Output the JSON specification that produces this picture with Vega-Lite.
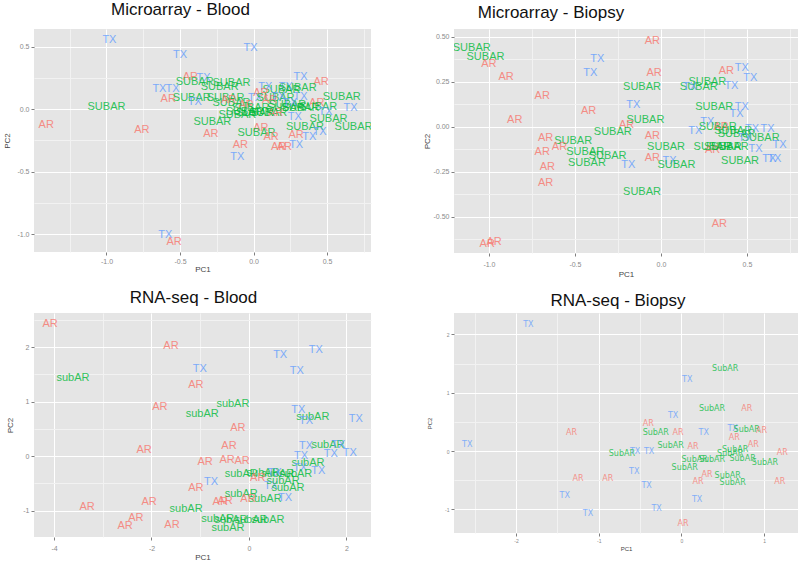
{
  "$schema": "https://vega.github.io/schema/vega-lite/v6.json",
  "padding": {"left": 3, "top": 1, "right": 0, "bottom": 0},
  "background": "white",
  "config": {
    "font": "Liberation Sans",
    "view": {"fill": "#E5E5E5", "stroke": null},
    "axis": {"domain": false, "tickColor": "#7F7F7F", "tickSize": 3, "labelColor": "#8A8A8A", "labelFontSize": 7, "labelPadding": 2, "titleColor": "#444444", "titleFontSize": 8, "titleFontWeight": "normal", "gridColor": "#FFFFFF"},
    "title": {"fontSize": 17, "fontWeight": "normal", "color": "#111111", "frame": "group", "anchor": "middle"},
    "text": {"font": "Liberation Sans", "fontSize": 11, "opacity": 0.8}
  },
  "datasets": {
    "p1": [
      {"x":-0.98,"y":0.55,"label":"TX"},{"x":-0.50,"y":0.43,"label":"TX"},{"x":-0.02,"y":0.49,"label":"TX"},{"x":0.32,"y":0.26,"label":"TX"},
      {"x":0.46,"y":0.22,"label":"AR"},{"x":-0.43,"y":0.26,"label":"AR"},{"x":-0.34,"y":0.25,"label":"TX"},{"x":-0.40,"y":0.22,"label":"SUBAR"},
      {"x":-0.15,"y":0.21,"label":"SUBAR"},{"x":-0.23,"y":0.18,"label":"SUBAR"},{"x":-0.64,"y":0.16,"label":"TX"},{"x":-0.55,"y":0.16,"label":"TX"},
      {"x":-0.58,"y":0.08,"label":"AR"},{"x":-0.42,"y":0.09,"label":"SUBAR"},{"x":-0.19,"y":0.09,"label":"SUBAR"},{"x":-0.40,"y":0.06,"label":"TX"},
      {"x":-1.00,"y":0.02,"label":"SUBAR"},{"x":-1.41,"y":-0.13,"label":"AR"},{"x":-0.76,"y":-0.17,"label":"AR"},{"x":-0.28,"y":-0.10,"label":"SUBAR"},
      {"x":-0.29,"y":-0.20,"label":"AR"},{"x":-0.09,"y":-0.29,"label":"AR"},{"x":-0.11,"y":-0.38,"label":"TX"},{"x":-0.60,"y":-1.01,"label":"TX"},
      {"x":-0.54,"y":-1.06,"label":"AR"},{"x":0.05,"y":-0.15,"label":"AR"},{"x":0.02,"y":-0.19,"label":"SUBAR"},{"x":0.12,"y":-0.22,"label":"AR"},
      {"x":0.17,"y":-0.30,"label":"AR"},{"x":0.21,"y":-0.30,"label":"AR"},{"x":0.29,"y":-0.29,"label":"TX"},{"x":0.29,"y":-0.21,"label":"AR"},
      {"x":0.38,"y":-0.22,"label":"TX"},{"x":0.35,"y":-0.14,"label":"SUBAR"},{"x":0.45,"y":-0.18,"label":"TX"},{"x":0.28,"y":-0.06,"label":"TX"},
      {"x":0.51,"y":-0.08,"label":"SUBAR"},{"x":0.68,"y":-0.14,"label":"SUBAR"},{"x":0.66,"y":0.01,"label":"TX"},{"x":0.60,"y":0.10,"label":"SUBAR"},
      {"x":0.43,"y":0.05,"label":"AR"},{"x":0.44,"y":0.02,"label":"SUBAR"},{"x":0.49,"y":-0.02,"label":"TX"},{"x":0.32,"y":0.10,"label":"TX"},
      {"x":0.30,"y":0.17,"label":"SUBAR"},{"x":0.22,"y":0.18,"label":"TX"},{"x":0.19,"y":0.15,"label":"SUBAR"},{"x":0.08,"y":0.18,"label":"TX"},
      {"x":0.05,"y":0.13,"label":"AR"},{"x":0.01,"y":0.09,"label":"TX"},{"x":0.15,"y":0.09,"label":"SUBAR"},{"x":0.11,"y":0.07,"label":"AR"},
      {"x":0.17,"y":0.10,"label":"TX"},{"x":0.23,"y":0.03,"label":"SUBAR"},{"x":0.32,"y":0.01,"label":"SUBAR"},{"x":-0.15,"y":0.05,"label":"SUBAR"},
      {"x":-0.17,"y":0.07,"label":"AR"},{"x":-0.05,"y":0.03,"label":"AR"},{"x":-0.06,"y":-0.02,"label":"SUBAR"},{"x":0.10,"y":-0.03,"label":"SUBAR"},
      {"x":0.15,"y":-0.03,"label":"AR"},{"x":-0.11,"y":-0.05,"label":"SUBAR"},{"x":0.01,"y":-0.03,"label":"SUBAR"},{"x":-0.02,"y":0.01,"label":"SUBAR"},
      {"x":0.22,"y":0.01,"label":"SUBAR"},{"x":0.25,"y":0.05,"label":"TX"}
    ],
    "p2": [
      {"x":-1.10,"y":0.44,"label":"SUBAR"},{"x":-1.02,"y":0.39,"label":"SUBAR"},{"x":-1.00,"y":0.35,"label":"AR"},{"x":-0.90,"y":0.28,"label":"AR"},
      {"x":-0.69,"y":0.17,"label":"AR"},{"x":-0.85,"y":0.04,"label":"AR"},{"x":-0.42,"y":0.09,"label":"AR"},{"x":-0.37,"y":0.38,"label":"TX"},
      {"x":-0.41,"y":0.30,"label":"TX"},{"x":-0.05,"y":0.48,"label":"AR"},{"x":-0.04,"y":0.30,"label":"AR"},{"x":-0.11,"y":0.22,"label":"SUBAR"},
      {"x":-0.16,"y":0.12,"label":"TX"},{"x":-0.09,"y":0.04,"label":"SUBAR"},{"x":-0.20,"y":0.01,"label":"AR"},{"x":-0.28,"y":-0.03,"label":"SUBAR"},
      {"x":-0.05,"y":-0.05,"label":"AR"},{"x":0.03,"y":-0.11,"label":"SUBAR"},{"x":-0.05,"y":-0.17,"label":"AR"},{"x":0.05,"y":-0.19,"label":"TX"},
      {"x":0.09,"y":-0.21,"label":"SUBAR"},{"x":-0.19,"y":-0.21,"label":"TX"},{"x":-0.11,"y":-0.36,"label":"SUBAR"},{"x":-0.67,"y":-0.06,"label":"AR"},
      {"x":-0.51,"y":-0.08,"label":"SUBAR"},{"x":-0.59,"y":-0.11,"label":"AR"},{"x":-0.69,"y":-0.14,"label":"AR"},{"x":-0.44,"y":-0.14,"label":"SUBAR"},
      {"x":-0.31,"y":-0.16,"label":"SUBAR"},{"x":-0.43,"y":-0.20,"label":"SUBAR"},{"x":-0.66,"y":-0.22,"label":"AR"},{"x":-0.67,"y":-0.31,"label":"AR"},
      {"x":-1.01,"y":-0.65,"label":"AR"},{"x":-0.97,"y":-0.64,"label":"AR"},{"x":0.34,"y":-0.54,"label":"AR"},{"x":0.38,"y":0.31,"label":"AR"},
      {"x":0.47,"y":0.33,"label":"TX"},{"x":0.52,"y":0.27,"label":"TX"},{"x":0.27,"y":0.25,"label":"SUBAR"},{"x":0.22,"y":0.22,"label":"SUBAR"},
      {"x":0.17,"y":0.22,"label":"TX"},{"x":0.41,"y":0.23,"label":"TX"},{"x":0.31,"y":0.11,"label":"SUBAR"},{"x":0.47,"y":0.11,"label":"TX"},
      {"x":0.44,"y":0.07,"label":"TX"},{"x":0.27,"y":0.03,"label":"TX"},{"x":0.20,"y":-0.02,"label":"TX"},{"x":0.33,"y":0.00,"label":"SUBAR"},
      {"x":0.35,"y":0.00,"label":"AR"},{"x":0.42,"y":-0.02,"label":"SUBAR"},{"x":0.53,"y":-0.01,"label":"TX"},{"x":0.62,"y":-0.01,"label":"TX"},
      {"x":0.44,"y":-0.04,"label":"SUBAR"},{"x":0.58,"y":-0.06,"label":"SUBAR"},{"x":0.69,"y":-0.10,"label":"TX"},{"x":0.30,"y":-0.11,"label":"SUBAR"},
      {"x":0.30,"y":-0.13,"label":"AR"},{"x":0.40,"y":-0.11,"label":"SUBAR"},{"x":0.55,"y":-0.12,"label":"TX"},{"x":0.63,"y":-0.18,"label":"TX"},
      {"x":0.66,"y":-0.18,"label":"TX"},{"x":0.46,"y":-0.19,"label":"SUBAR"},{"x":0.36,"y":-0.11,"label":"SUBAR"},{"x":0.49,"y":-0.06,"label":"TX"}
    ],
    "p3": [
      {"x":-4.08,"y":2.42,"label":"AR"},{"x":-1.60,"y":2.02,"label":"AR"},{"x":-3.61,"y":1.43,"label":"subAR"},{"x":-1.01,"y":1.60,"label":"TX"},
      {"x":-1.09,"y":1.30,"label":"AR"},{"x":-1.83,"y":0.90,"label":"AR"},{"x":-0.33,"y":0.95,"label":"subAR"},{"x":-0.96,"y":0.77,"label":"subAR"},
      {"x":-0.23,"y":0.51,"label":"AR"},{"x":-2.15,"y":0.11,"label":"AR"},{"x":-0.41,"y":0.18,"label":"AR"},{"x":-0.90,"y":-0.11,"label":"AR"},
      {"x":-0.45,"y":-0.07,"label":"AR"},{"x":-0.14,"y":-0.09,"label":"AR"},{"x":-1.09,"y":-0.59,"label":"AR"},{"x":-0.78,"y":-0.48,"label":"TX"},
      {"x":-3.32,"y":-0.94,"label":"AR"},{"x":-2.05,"y":-0.84,"label":"AR"},{"x":-2.32,"y":-1.14,"label":"AR"},{"x":-2.54,"y":-1.28,"label":"AR"},
      {"x":-1.58,"y":-1.27,"label":"AR"},{"x":-1.29,"y":-0.97,"label":"subAR"},{"x":-0.59,"y":-0.84,"label":"AR"},{"x":-0.49,"y":-0.83,"label":"AR"},
      {"x":-0.64,"y":-1.16,"label":"subAR"},{"x":-0.37,"y":-1.17,"label":"subAR"},{"x":0.04,"y":-1.17,"label":"subAR"},{"x":0.39,"y":-1.17,"label":"subAR"},
      {"x":-0.43,"y":-1.32,"label":"subAR"},{"x":-0.16,"y":-0.33,"label":"subAR"},{"x":0.29,"y":-0.31,"label":"subAR"},{"x":0.59,"y":-0.33,"label":"subAR"},
      {"x":0.18,"y":-0.40,"label":"AR"},{"x":-0.16,"y":-0.70,"label":"subAR"},{"x":0.33,"y":-0.79,"label":"subAR"},{"x":-0.02,"y":-0.79,"label":"AR"},
      {"x":0.45,"y":-0.55,"label":"TX"},{"x":0.80,"y":-0.59,"label":"subAR"},{"x":0.74,"y":-0.77,"label":"TX"},{"x":0.70,"y":-0.46,"label":"subAR"},
      {"x":0.64,"y":1.85,"label":"TX"},{"x":1.37,"y":1.94,"label":"TX"},{"x":0.98,"y":1.56,"label":"TX"},{"x":1.01,"y":0.84,"label":"TX"},
      {"x":1.31,"y":0.72,"label":"subAR"},{"x":1.17,"y":0.64,"label":"TX"},{"x":2.19,"y":0.68,"label":"TX"},{"x":1.17,"y":0.18,"label":"TX"},
      {"x":1.62,"y":0.20,"label":"subAR"},{"x":1.83,"y":0.20,"label":"TX"},{"x":1.68,"y":0.04,"label":"TX"},{"x":2.07,"y":0.06,"label":"TX"},
      {"x":1.21,"y":-0.13,"label":"subAR"},{"x":1.07,"y":0.00,"label":"TX"},{"x":1.42,"y":-0.28,"label":"TX"},{"x":1.05,"y":-0.22,"label":"TX"},
      {"x":0.96,"y":-0.33,"label":"subAR"},{"x":0.53,"y":-0.31,"label":"TX"}
    ],
    "p4": [
      {"x":-1.85,"y":2.16,"label":"TX"},{"x":-2.59,"y":0.10,"label":"TX"},{"x":-1.33,"y":0.31,"label":"AR"},{"x":0.53,"y":1.41,"label":"SubAR"},
      {"x":0.07,"y":1.22,"label":"TX"},{"x":0.37,"y":0.72,"label":"SubAR"},{"x":0.79,"y":0.72,"label":"AR"},{"x":-0.10,"y":0.60,"label":"TX"},
      {"x":-0.40,"y":0.46,"label":"AR"},{"x":-0.31,"y":0.31,"label":"SubAR"},{"x":-0.04,"y":0.31,"label":"AR"},{"x":0.27,"y":0.31,"label":"TX"},
      {"x":0.62,"y":0.38,"label":"TX"},{"x":0.79,"y":0.36,"label":"SubAR"},{"x":0.97,"y":0.34,"label":"AR"},{"x":0.64,"y":0.22,"label":"AR"},
      {"x":-0.13,"y":0.09,"label":"SubAR"},{"x":0.14,"y":0.07,"label":"AR"},{"x":0.87,"y":0.10,"label":"AR"},{"x":-0.72,"y":-0.05,"label":"SubAR"},
      {"x":-0.56,"y":-0.02,"label":"TX"},{"x":-0.39,"y":-0.02,"label":"TX"},{"x":0.65,"y":0.02,"label":"SubAR"},{"x":0.59,"y":-0.05,"label":"SubAR"},
      {"x":1.22,"y":-0.03,"label":"AR"},{"x":0.16,"y":-0.15,"label":"SubAR"},{"x":0.37,"y":-0.15,"label":"SubAR"},{"x":0.74,"y":-0.14,"label":"SubAR"},
      {"x":1.01,"y":-0.21,"label":"SubAR"},{"x":0.04,"y":-0.29,"label":"SubAR"},{"x":-0.57,"y":-0.36,"label":"TX"},{"x":0.31,"y":-0.41,"label":"AR"},
      {"x":0.56,"y":-0.43,"label":"SubAR"},{"x":-1.25,"y":-0.48,"label":"AR"},{"x":-0.89,"y":-0.48,"label":"AR"},{"x":0.20,"y":-0.53,"label":"AR"},
      {"x":0.62,"y":-0.55,"label":"SubAR"},{"x":1.19,"y":-0.53,"label":"AR"},{"x":-0.42,"y":-0.60,"label":"TX"},{"x":-1.41,"y":-0.77,"label":"TX"},
      {"x":0.19,"y":-0.84,"label":"TX"},{"x":-0.30,"y":-0.99,"label":"TX"},{"x":-1.13,"y":-1.08,"label":"TX"},{"x":0.02,"y":-1.25,"label":"AR"}
    ]
  },
  "columns": 2,
  "align": "none",
  "bounds": "flush",
  "spacing": {"row": 60, "column": 83},
  "concat": [
    {
      "title": {"text": "Microarray - Blood", "offset": 10, "dx": -22},
      "width": 337, "height": 223,
      "data": {"name": "p1"},
      "mark": {"type": "text", "clip": true},
      "encoding": {
        "x": {"field": "x", "type": "quantitative", "scale": {"domain": [-1.493, 0.799], "nice": false, "zero": false},
          "axis": {"title": "PC1", "titlePadding": 1, "values": [-1.5,-1.25,-1,-0.75,-0.5,-0.25,0,0.25,0.5,0.75],
            "labelExpr": "abs(datum.value*2 - round(datum.value*2)) > 0.01 ? '' : replace(format(datum.value, '.1f'), '\u2212', '-')",
            "tickOpacity": {"condition": {"test": "abs(datum.value*2 - round(datum.value*2)) > 0.01", "value": 0}, "value": 1},
            "gridColor": {"condition": {"test": "abs(datum.value*2 - round(datum.value*2)) > 0.01", "value": "#F2F2F2"}, "value": "#FFFFFF"}}},
        "y": {"field": "y", "type": "quantitative", "scale": {"domain": [-1.144, 0.64], "nice": false, "zero": false},
          "axis": {"title": "PC2", "titlePadding": 5, "values": [-1,-0.75,-0.5,-0.25,0,0.25,0.5],
            "labelExpr": "abs(datum.value*2 - round(datum.value*2)) > 0.01 ? '' : replace(format(datum.value, '.1f'), '\u2212', '-')",
            "tickOpacity": {"condition": {"test": "abs(datum.value*2 - round(datum.value*2)) > 0.01", "value": 0}, "value": 1},
            "gridColor": {"condition": {"test": "abs(datum.value*2 - round(datum.value*2)) > 0.01", "value": "#F2F2F2"}, "value": "#FFFFFF"}}},
        "text": {"field": "label"},
        "color": {"field": "label", "type": "nominal", "legend": null,
          "scale": {"domain": ["AR","SUBAR","subAR","SubAR","TX"], "range": ["#F8766D","#00BA38","#00BA38","#00BA38","#619CFF"]}}
      }
    },
    {
      "title": {"text": "Microarray - Biopsy", "offset": 7, "dx": -75},
      "width": 344, "height": 224,
      "data": {"name": "p2"},
      "mark": {"type": "text", "clip": true},
      "encoding": {
        "x": {"field": "x", "type": "quantitative", "scale": {"domain": [-1.203, 0.797], "nice": false, "zero": false},
          "axis": {"title": "PC1", "titlePadding": 3, "labelPadding": 4, "values": [-1,-0.75,-0.5,-0.25,0,0.25,0.5,0.75],
            "labelExpr": "abs(datum.value*2 - round(datum.value*2)) > 0.01 ? '' : replace(format(datum.value, '.1f'), '\u2212', '-')",
            "tickOpacity": {"condition": {"test": "abs(datum.value*2 - round(datum.value*2)) > 0.01", "value": 0}, "value": 1},
            "gridColor": {"condition": {"test": "abs(datum.value*2 - round(datum.value*2)) > 0.01", "value": "#F2F2F2"}, "value": "#FFFFFF"}}},
        "y": {"field": "y", "type": "quantitative", "scale": {"domain": [-0.70, 0.544], "nice": false, "zero": false},
          "axis": {"title": "PC2", "titlePadding": 2, "values": [-0.625,-0.5,-0.375,-0.25,-0.125,0,0.125,0.25,0.375,0.5],
            "labelExpr": "abs(datum.value*4 - round(datum.value*4)) > 0.01 ? '' : replace(format(datum.value, '.2f'), '\u2212', '-')",
            "tickOpacity": {"condition": {"test": "abs(datum.value*4 - round(datum.value*4)) > 0.01", "value": 0}, "value": 1},
            "gridColor": {"condition": {"test": "abs(datum.value*4 - round(datum.value*4)) > 0.01", "value": "#F2F2F2"}, "value": "#FFFFFF"}}},
        "text": {"field": "label"},
        "color": {"field": "label", "type": "nominal", "legend": null}
      }
    },
    {
      "title": {"text": "RNA-seq - Blood", "offset": 6, "dx": -9},
      "width": 337, "height": 224,
      "data": {"name": "p3"},
      "mark": {"type": "text", "clip": true},
      "encoding": {
        "x": {"field": "x", "type": "quantitative", "scale": {"domain": [-4.41, 2.503], "nice": false, "zero": false},
          "axis": {"title": "PC1", "titlePadding": 2, "labelPadding": 4, "values": [-4,-3,-2,-1,0,1,2],
            "labelExpr": "datum.value % 2 != 0 ? '' : replace(format(datum.value, 'd'), '\u2212', '-')",
            "tickOpacity": {"condition": {"test": "datum.value % 2 != 0", "value": 0}, "value": 1},
            "gridColor": {"condition": {"test": "datum.value % 2 != 0", "value": "#F2F2F2"}, "value": "#FFFFFF"}}},
        "y": {"field": "y", "type": "quantitative", "scale": {"domain": [-1.486, 2.624], "nice": false, "zero": false},
          "axis": {"title": "PC2", "titlePadding": 8, "values": [-1,-0.5,0,0.5,1,1.5,2,2.5],
            "labelExpr": "datum.value % 1 != 0 ? '' : replace(format(datum.value, 'd'), '\u2212', '-')",
            "tickOpacity": {"condition": {"test": "datum.value % 1 != 0", "value": 0}, "value": 1},
            "gridColor": {"condition": {"test": "datum.value % 1 != 0", "value": "#F2F2F2"}, "value": "#FFFFFF"}}},
        "text": {"field": "label"},
        "color": {"field": "label", "type": "nominal", "legend": null}
      }
    },
    {
      "title": {"text": "RNA-seq - Biopsy", "offset": 3, "dx": -8},
      "width": 344, "height": 220,
      "data": {"name": "p4"},
      "mark": {"type": "text", "clip": true, "font": "DejaVu Sans", "fontSize": 8, "opacity": 0.75},
      "encoding": {
        "x": {"field": "x", "type": "quantitative", "scale": {"domain": [-2.75, 1.41], "nice": false, "zero": false},
          "axis": {"title": "PC1", "titleFontSize": 6, "labelFontSize": 5, "titlePadding": 2, "labelPadding": 2, "values": [-2.5,-2,-1.5,-1,-0.5,0,0.5,1],
            "labelExpr": "datum.value % 1 != 0 ? '' : replace(format(datum.value, 'd'), '\u2212', '-')",
            "tickOpacity": {"condition": {"test": "datum.value % 1 != 0", "value": 0}, "value": 1},
            "gridColor": {"condition": {"test": "datum.value % 1 != 0", "value": "#F2F2F2"}, "value": "#FFFFFF"}}},
        "y": {"field": "y", "type": "quantitative", "scale": {"domain": [-1.406, 2.367], "nice": false, "zero": false},
          "axis": {"title": "PC2", "titleFontSize": 6, "labelFontSize": 5, "titlePadding": 12, "values": [-1,-0.5,0,0.5,1,1.5,2],
            "labelExpr": "datum.value % 1 != 0 ? '' : replace(format(datum.value, 'd'), '\u2212', '-')",
            "tickOpacity": {"condition": {"test": "datum.value % 1 != 0", "value": 0}, "value": 1},
            "gridColor": {"condition": {"test": "datum.value % 1 != 0", "value": "#F2F2F2"}, "value": "#FFFFFF"}}},
        "text": {"field": "label"},
        "color": {"field": "label", "type": "nominal", "legend": null}
      }
    }
  ]
}
